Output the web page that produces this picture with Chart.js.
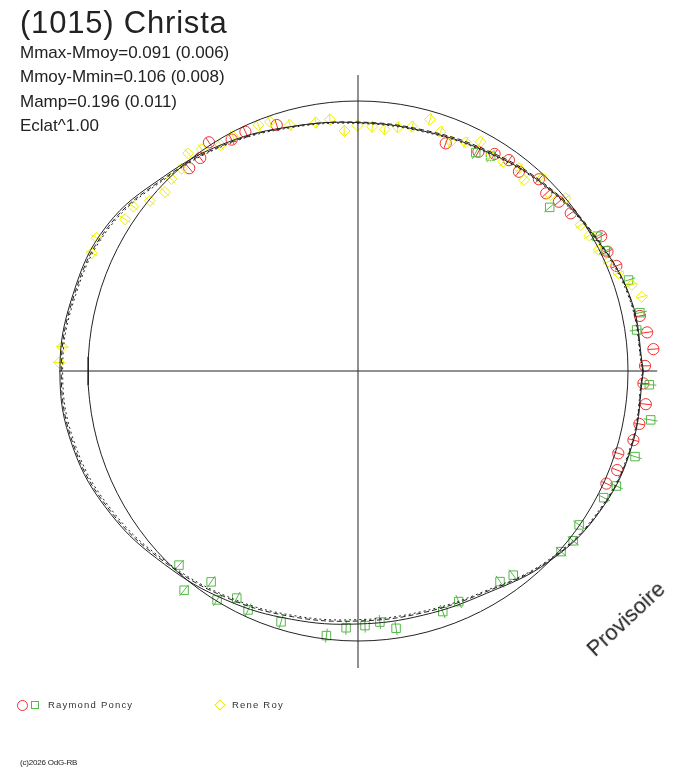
<!DOCTYPE html>
<html>
<head>
<meta charset="utf-8">
<script src="https://cdn.jsdelivr.net/npm/chart.js@4.4.1/dist/chart.umd.min.js"></script>
<style>
  body { margin: 0; background: #fff; }
  #wrap { position: relative; width: 688px; height: 768px; font-family: "Liberation Sans", Arial, sans-serif; color: #222; }
  #wrap canvas { position: absolute; left: 0; top: 0; }
  .txt { position: absolute; white-space: nowrap; }
  .title { left: 20px; top: 7px; font-size: 31px; line-height: 31px; letter-spacing: 0.8px; }
  .stat { left: 20px; font-size: 17px; line-height: 17px; }
  .leg { font-size: 9.5px; line-height: 10px; letter-spacing: 1.2px; top: 700px; color: #333; }
  .copy { left: 20px; top: 759px; font-size: 8px; line-height: 8px; letter-spacing: -0.2px; }
  .prov { left: 626px; top: 619px; font-size: 22px; line-height: 22px; transform: translate(-50%, -50%) rotate(-43deg); }
  .mk { position: absolute; box-sizing: border-box; }
</style>
</head>
<body>
<div id="wrap">
  <canvas id="polar" width="688" height="768"></canvas>
  <div class="txt title">(1015) Christa</div>
  <div class="txt stat" style="top:44px">Mmax-Mmoy=0.091 (0.006)</div>
  <div class="txt stat" style="top:68px">Mmoy-Mmin=0.106 (0.008)</div>
  <div class="txt stat" style="top:93px">Mamp=0.196 (0.011)</div>
  <div class="txt stat" style="top:117px">Eclat^1.00</div>

  <div class="mk" style="left:17px;top:700px;width:11px;height:11px;border:1px solid #f03030;border-radius:50%"></div>
  <div class="mk" style="left:31px;top:701px;width:8px;height:8px;border:1px solid #55b848"></div>
  <div class="txt leg" style="left:48px">Raymond Poncy</div>
  <div class="mk" style="left:216px;top:701px;width:8px;height:8px;border:1px solid #eeee00;transform:rotate(45deg)"></div>
  <div class="txt leg" style="left:232px">Rene Roy</div>

  <div class="txt copy">(c)2026 OdG-RB</div>
  <div class="txt prov">Provisoire</div>
</div>
<script>
// units: reference circle radius = 1 (mean brightness)
const poncyCircX = [-0.625,-0.584,-0.552,-0.468,-0.417,-0.301,0.325,0.446,0.506,0.559,0.596,0.670,0.697,0.744,0.788,0.901,0.924,0.957,1.044,1.071,1.094,1.063,1.057,1.066,1.042,1.020,0.964,0.960,0.920];
const poncyCircY = [0.751,0.789,0.847,0.857,0.886,0.911,0.843,0.812,0.804,0.781,0.738,0.710,0.658,0.627,0.584,0.499,0.442,0.389,0.204,0.143,0.081,0.019,-0.046,-0.123,-0.196,-0.256,-0.305,-0.367,-0.417];

const poncySqX = [-0.663,-0.644,-0.544,-0.522,-0.449,-0.407,-0.285,-0.117,-0.044,0.026,0.081,0.141,0.314,0.373,0.526,0.575,0.752,0.797,0.819,0.910,0.957,1.026,1.084,1.079,1.032,1.044,1.002,0.916,0.885,0.710,0.491,0.436];
const poncySqY = [-0.719,-0.812,-0.781,-0.848,-0.841,-0.885,-0.929,-0.980,-0.951,-0.943,-0.930,-0.953,-0.891,-0.854,-0.780,-0.756,-0.669,-0.629,-0.570,-0.469,-0.426,-0.317,-0.181,-0.051,0.152,0.216,0.337,0.445,0.499,0.606,0.796,0.809];

const royX = [-1.107,-1.095,-0.986,-0.968,-0.863,-0.832,-0.771,-0.715,-0.691,-0.653,-0.629,-0.579,-0.509,-0.464,-0.369,-0.326,-0.252,-0.156,-0.104,-0.050,-0.002,0.053,0.099,0.148,0.201,0.267,0.306,0.343,0.399,0.454,0.491,0.538,0.596,0.615,0.683,0.714,0.769,0.825,0.857,0.891,0.927,0.965,1.014,1.051];
const royY = [0.031,0.090,0.436,0.493,0.562,0.609,0.630,0.663,0.711,0.749,0.806,0.821,0.837,0.870,0.911,0.923,0.911,0.920,0.931,0.889,0.909,0.905,0.895,0.903,0.905,0.932,0.886,0.849,0.847,0.849,0.796,0.775,0.751,0.707,0.714,0.652,0.640,0.541,0.502,0.449,0.405,0.363,0.319,0.275];

// radial error half-lengths
const errCirc = 0.02, errSq = 0.026, errRoy = 0.022;

// fitted lightcurve, radius every 15 deg (counter-clockwise from +x)
const fitAngles = [0,15,30,45,60,75,90,105,120,135,150,165,180,195,210,225,240,255,270,285,300,315,330,345,360];
const fitR  = [1.057,1.045,1.007,0.975,0.941,0.921,0.920,0.938,0.976,1.018,1.075,1.093,1.104,1.093,1.058,1.013,0.979,0.952,0.937,0.936,0.951,0.999,1.036,1.052,1.057];
const fitRa = [1.055,1.043,1.010,0.979,0.946,0.925,0.922,0.937,0.972,1.012,1.068,1.088,1.099,1.088,1.052,1.006,0.970,0.942,0.926,0.927,0.945,0.996,1.034,1.050,1.055];
const fitRb = [1.054,1.040,1.004,0.972,0.938,0.918,0.917,0.934,0.969,1.008,1.063,1.083,1.094,1.082,1.046,1.001,0.965,0.937,0.921,0.922,0.941,0.993,1.031,1.048,1.054];

const axisX = [-1.107, 1.108];
const axisY = [-1.1, 1.096];

function polar(angles, radii) {
  return angles.map((a, i) => {
    const t = a * Math.PI / 180;
    return { x: radii[i] * Math.cos(t), y: radii[i] * Math.sin(t) };
  });
}
function pts(xs, ys) {
  return xs.map((x, i) => ({ x: x, y: ys[i] }));
}
function ticks(xs, ys, e) {
  const out = [];
  xs.forEach((x, i) => {
    const y = ys[i];
    const r = Math.sqrt(x * x + y * y);
    const k1 = (r - e) / r, k2 = (r + e) / r;
    out.push({ x: x * k1, y: y * k1 }, { x: x * k2, y: y * k2 }, { x: x, y: null });
  });
  return out;
}

const circAngles = [];
for (let a = 0; a <= 360; a += 3) circAngles.push(a);
const circle = polar(circAngles, circAngles.map(() => 1));

const RED = '#f03030', GREEN = '#55b848', YELLOW = '#eeee00', INK = '#222';

const lineBase = { showLine: true, pointRadius: 0, borderWidth: 1, fill: false, clip: false };

new Chart(document.getElementById('polar'), {
  type: 'scatter',
  data: {
    datasets: [
      Object.assign({ data: [{ x: axisX[0], y: 0 }, { x: axisX[1], y: 0 }], borderColor: INK }, lineBase),
      Object.assign({ data: [{ x: 0, y: axisY[0] }, { x: 0, y: axisY[1] }], borderColor: INK }, lineBase),
      Object.assign({ data: circle, borderColor: INK }, lineBase),
      Object.assign({ data: polar(fitAngles, fitR), borderColor: INK, tension: 0.4 }, lineBase),
      Object.assign({ data: polar(fitAngles, fitRa), borderColor: INK, tension: 0.4, borderDash: [5, 3] }, lineBase),
      Object.assign({ data: polar(fitAngles, fitRb), borderColor: INK, tension: 0.4, borderDash: [2, 3] }, lineBase),
      Object.assign({ data: ticks(royX, royY, errRoy), borderColor: YELLOW, spanGaps: false }, lineBase),
      Object.assign({ data: ticks(poncySqX, poncySqY, errSq), borderColor: GREEN, spanGaps: false }, lineBase),
      Object.assign({ data: ticks(poncyCircX, poncyCircY, errCirc), borderColor: RED, spanGaps: false }, lineBase),
      { label: 'Rene Roy', data: pts(royX, royY), pointStyle: 'rectRot', pointRadius: 5.5,
        borderColor: YELLOW, backgroundColor: 'rgba(0,0,0,0)', pointBorderWidth: 1, clip: false },
      { label: 'Raymond Poncy', data: pts(poncySqX, poncySqY), pointStyle: 'rect', pointRadius: 6,
        borderColor: GREEN, backgroundColor: 'rgba(0,0,0,0)', pointBorderWidth: 1, clip: false },
      { label: 'Raymond Poncy', data: pts(poncyCircX, poncyCircY), pointStyle: 'circle', pointRadius: 5.6,
        borderColor: RED, backgroundColor: 'rgba(0,0,0,0)', pointBorderWidth: 1, clip: false }
    ]
  },
  options: {
    responsive: false,
    animation: false,
    events: [],
    layout: { padding: { left: 61, right: 33, top: 74, bottom: 100 } },
    elements: { line: { capBezierPoints: false } },
    scales: {
      x: { type: 'linear', min: -1.1, max: 1.1, display: false },
      y: { type: 'linear', min: -1.1, max: 1.1, display: false }
    },
    plugins: { legend: { display: false }, tooltip: { enabled: false } }
  }
});
</script>
</body>
</html>
